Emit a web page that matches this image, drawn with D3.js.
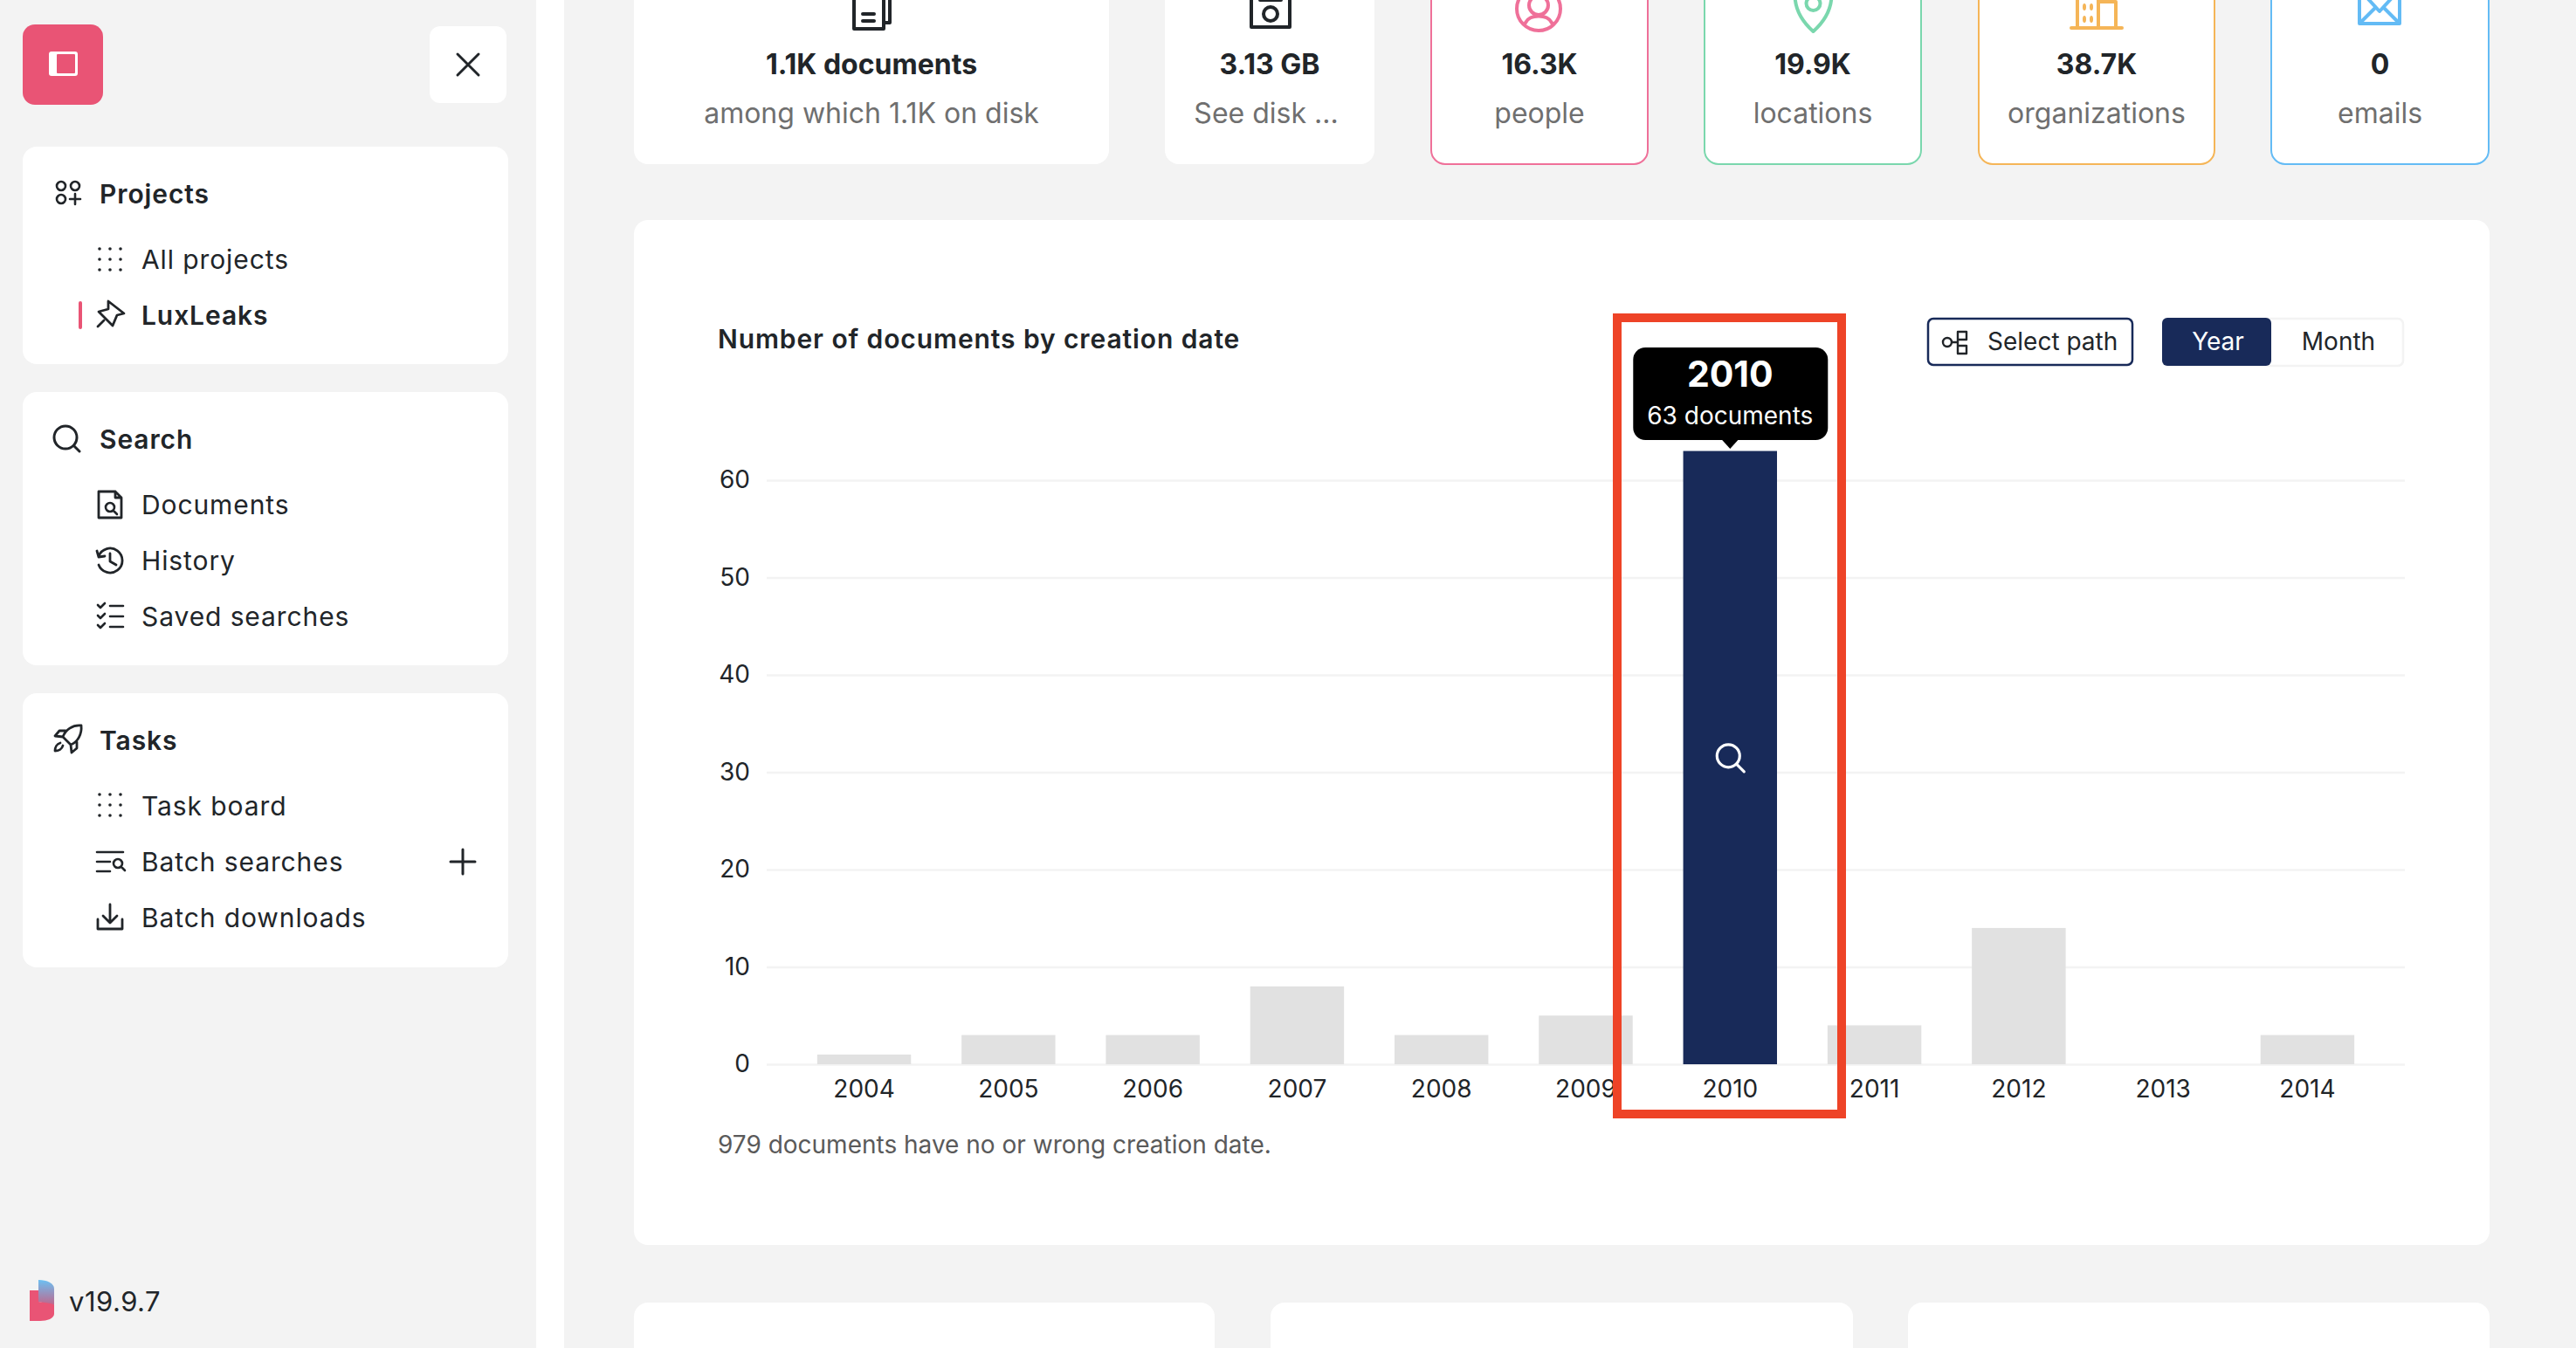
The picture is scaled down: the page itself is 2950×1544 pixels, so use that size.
<!DOCTYPE html>
<html lang="en">
<head>
    <meta charset="UTF-8">
    <title>Number of documents by creation date</title>
    <style>
        html, body { margin: 0; padding: 0; background: #f3f3f3; overflow: hidden; }
        text { font-family: Inter, "Noto Sans", sans-serif; fill: #212529; }
    </style>
</head>
<body>
<script src="https://d3js.org/d3.v7.min.js"></script>
<script>

    // chart values
    const years = ["2004", "2005", "2006", "2007", "2008", "2009", "2010", "2011", "2012", "2013", "2014"];
    const documentCounts = [1, 3, 3, 8, 3, 5, 63, 4, 14, 0, 3];
    const yTicks = [0, 10, 20, 30, 40, 50, 60];
    const selectedYear = "2010";
    const chartTitle = "Number of documents by creation date";
    const chartNote = "979 documents have no or wrong creation date.";

    // sidebar and stat card texts
    const projectItems = ["All projects", "LuxLeaks"];
    const searchItems = ["Documents", "History", "Saved searches"];
    const taskItems = ["Task board", "Batch searches", "Batch downloads"];
    const statValues = ["1.1K documents", "3.13 GB", "16.3K", "19.9K", "38.7K", "0"];
    const statLabels = ["among which 1.1K on disk", "See disk ...", "people", "locations", "organizations", "emails"];

    const NAVY = "#182a59", PINK = "#e95475", GREY = "#e1e1e1", GRID = "#f3f3f3", RED = "#ee4327";
    const INK = "#212529";

    const svg = d3.select("body").append("svg")
        .attr("width", 2950)
        .attr("height", 1544)
        .style("display", "block");

    function box(x, y, w, h, r = 16, fill = "#fff", stroke = "none", sw = 0) {
        return svg.append("rect")
            .attr("x", x).attr("y", y).attr("width", w).attr("height", h).attr("rx", r)
            .attr("fill", fill).attr("stroke", stroke).attr("stroke-width", sw);
    }

    function label(x, y, s, size = 30, weight = 400, anchor = "start", color = INK, spacing = 0) {
        return svg.append("text")
            .attr("x", x).attr("y", y)
            .attr("text-anchor", anchor)
            .style("font-size", size + "px")
            .style("font-weight", weight)
            .style("letter-spacing", spacing + "px")
            .style("fill", color)
            .text(s);
    }

    // the sidebar and the title are a bit wider than plain Inter
    function navLabel(x, y, s, weight = 400) {
        return label(x, y, s, 30, weight, "start", INK, 0.9);
    }

    // line icon drawn around (x, y)
    function icon(x, y, d, color = INK, sw = 3) {
        return svg.append("path")
            .attr("transform", "translate(" + x + "," + y + ")")
            .attr("d", d)
            .attr("fill", "none")
            .attr("stroke", color)
            .attr("stroke-width", sw)
            .attr("stroke-linecap", "round")
            .attr("stroke-linejoin", "round");
    }

    function ring(r) {
        return "M" + (-r) + ",0a" + r + "," + r + " 0 1,0 " + (2 * r) + ",0a" + r + "," + r + " 0 1,0 " + (-2 * r) + ",0";
    }

    function dots(x, y) {
        svg.append("g").selectAll("circle")
            .data(d3.cross([-12, 0, 12], [-12, 0, 12]))
            .enter().append("circle")
            .attr("cx", d => x + d[0])
            .attr("cy", d => y + d[1])
            .attr("r", 1.8)
            .attr("fill", INK);
    }

    // page background pieces
    box(614, 0, 32, 1544, 0);

    // sidebar top buttons
    box(26, 28, 92, 92, 14, PINK);
    box(56, 59, 33, 28, 3, "#fff");
    box(65, 62, 21, 22, 1, PINK);
    box(492, 30, 88, 88, 12);
    icon(536, 74, "M-12,-12L12,12M12,-12L-12,12", INK, 3);

    // sidebar cards
    box(26, 168, 556, 249);
    box(26, 449, 556, 313);
    box(26, 794, 556, 314);

    const HEAD_X = 114, ITEM_X = 162, ICON_HEAD = 78, ICON_ITEM = 126;

    navLabel(HEAD_X, 233, "Projects", 600);
    icon(ICON_HEAD - 8, 213, ring(5), INK, 2.6);
    icon(ICON_HEAD + 8, 213, ring(5), INK, 2.6);
    icon(ICON_HEAD - 8, 228, ring(5), INK, 2.6);
    icon(ICON_HEAD + 8, 228, "M-6,0H6M0,-6V6", INK, 2.6);

    navLabel(ITEM_X, 308, projectItems[0]);
    dots(ICON_ITEM, 297);
    navLabel(ITEM_X, 372, projectItems[1], 600);
    box(90, 345, 4, 32, 2, PINK);
    icon(ICON_ITEM + 1, 360, "M-3,-15L15,-1L7,1L2,13L-14,-3L-3,-6ZM-8,7L-15,14", INK, 2.8);

    navLabel(HEAD_X, 514, "Search", 600);
    icon(ICON_HEAD - 3, 501, ring(13) + "M10,10L16,16", INK, 3);
    navLabel(ITEM_X, 589, searchItems[0]);
    icon(ICON_ITEM, 578, "M-13,-15H6L13,-8V15H-13ZM6,-15V-8H13", INK, 2.8);
    icon(ICON_ITEM, 581, ring(5) + "M4,4L8,8", INK, 2.6);
    navLabel(ITEM_X, 653, searchItems[1]);
    icon(ICON_ITEM, 642, "M-13,-5A14,14 0 1,1 -13,5M-15,-11L-13,-4L-6,-5M0,-8V1L7,5", INK, 2.8);
    navLabel(ITEM_X, 717, searchItems[2]);
    icon(ICON_ITEM, 705, "M-14,-12L-11,-9L-6,-14M-14,0L-11,3L-6,-2M-14,11L-11,14L-6,9M0,-11H15M0,1H15M0,13H15", INK, 2.6);

    navLabel(HEAD_X, 859, "Tasks", 600);
    icon(ICON_HEAD, 846, "M15,-15C5,-16 -3,-10 -6,-2L3,7C11,4 16,-5 15,-15ZM-6,-2L-15,-3L-10,-9L-3,-9M3,7L4,16L10,11L10,4M-9,5C-13,6 -15,10 -15,14C-11,14 -7,12 -6,8", INK, 2.8);
    navLabel(ITEM_X, 934, taskItems[0]);
    dots(ICON_ITEM, 922);
    navLabel(ITEM_X, 998, taskItems[1]);
    icon(ICON_ITEM, 987, "M-15,-11H15M-15,0H0M-15,11H0", INK, 2.6);
    icon(ICON_ITEM + 9, 989, ring(5) + "M4,4L8,8", INK, 2.6);
    icon(530, 987, "M-14,0H14M0,-14V14", INK, 3);
    navLabel(ITEM_X, 1062, taskItems[2]);
    icon(ICON_ITEM, 1050, "M-14,3V14H14V3M0,-14V6M-8,-1L0,7L8,-1", INK, 2.8);

    // version footer
    svg.append("defs").append("linearGradient")
        .attr("id", "logoTop").attr("x1", 0).attr("y1", 0).attr("x2", 0).attr("y2", 1)
        .selectAll("stop")
        .data([["0%", "#6cc0f2"], ["100%", "#c0668c"]])
        .enter().append("stop")
        .attr("offset", d => d[0])
        .attr("stop-color", d => d[1]);
    svg.append("path").attr("d", "M44,1466C54,1466 62,1470 62,1476V1495L44,1491Z").attr("fill", "url(#logoTop)");
    svg.append("path").attr("d", "M34,1478H44V1491C52,1492 62,1493 62,1495V1505C62,1510 54,1513 46,1513H34Z").attr("fill", PINK);
    label(79, 1502, "v19.9.7", 31, 400, "start", INK, 0.5);

    // stat cards along the top, cut by the page scroll
    const statBoxes = [[726, 544], [1334, 240], [1639, 248], [1952, 248], [2266, 270], [2601, 249]];
    const statColors = [null, null, "#ef7099", "#7ad7ad", "#f5b557", "#63bbf5"];
    statValues.forEach((v, i) => {
        const x = statBoxes[i][0], w = statBoxes[i][1], c = statColors[i];
        box(x, -30, w, 218, 16, "#fff", c || "none", c ? 2 : 0);
        label(x + w / 2, 85, v, 32, 700, "middle");
        label(x + w / 2 - (i === 1 ? 4 : 0), 141, statLabels[i], 32, 400, "middle", "#6f6f6f");
    });

    // documents
    icon(994, 0, "M-16,-12V33H18V-1L11,-12M18,26H25V-12M-6,16H7M-6,24H7", INK, 4);
    // disk
    icon(1455, 0, "M-22,-14V31H22V-14M-12,0H12", INK, 4);
    icon(1455, 16, ring(8), INK, 4);
    // people
    icon(1762, 10, ring(25) + "M-15,16C-10,6 10,6 15,16", "#ef7099", 4);
    icon(1762, 6, ring(11), "#ef7099", 4);
    // locations
    icon(2076.5, 0, "M-21,-6C-21,14 -9,28 0,36C9,28 21,14 21,-6", "#7ad7ad", 4);
    icon(2076.5, 4, ring(8), "#7ad7ad", 4);
    // organizations
    icon(2401, 0, "M-22,32V-8M2,32V-8M2,2H22V32M-29,32H29", "#f5b557", 4);
    svg.append("g").selectAll("ellipse")
        .data(d3.cross([2387, 2395], [8, 22]))
        .enter().append("ellipse")
        .attr("cx", d => d[0]).attr("cy", d => d[1])
        .attr("rx", 2).attr("ry", 4)
        .attr("fill", "#f5b557");
    // emails
    icon(2725, 0, "M-23,-12V27H23V-12M-23,-12L0,13L23,-12M-22,26L-5,9M22,26L5,9", "#63bbf5", 4);

    // lower cards, only their tops are visible
    box(726, 1492, 665, 90);
    box(1455, 1492, 667, 90);
    box(2185, 1492, 666, 90);

    // main chart card
    box(726, 252, 2125, 1174);
    navLabel(822, 399, chartTitle, 600);

    box(2208, 365, 234, 53, 6, "#fff", NAVY, 2.5);
    icon(2239, 392, "M-14,0a5,5 0 1,0 10,0a5,5 0 1,0 -10,0M-4,0H3M3,-12H13V-3H3ZM3,4H13V13H3ZM3,-6V9", INK, 2.4);
    label(2276, 401, "Select path", 28, 400);

    box(2477, 365, 275, 54, 6, "#fff", GRID, 2.5);
    box(2476, 364, 125, 55, 6, NAVY);
    label(2540, 401, "Year", 28, 400, "middle", "#fff");
    label(2678, 401, "Month", 28, 400, "middle");

    // scales
    const x = d3.scaleBand().domain(years).range([878, 2754]).padding(0.35);
    const y = d3.scaleLinear().domain([0, 60]).range([1219, 550]);

    // grid and y labels come out of the axis
    const yAxis = svg.append("g")
        .attr("transform", "translate(878,0)")
        .call(d3.axisLeft(y).tickValues(yTicks).tickSize(-(2754 - 878)).tickPadding(19));
    yAxis.select(".domain").remove();
    yAxis.selectAll(".tick line").attr("stroke", GRID).attr("stroke-width", 2.5);
    yAxis.selectAll(".tick text")
        .style("font-size", "28px")
        .style("font-family", "Inter")
        .style("fill", INK);

    const rows = years.map((year, i) => ({year: year, count: documentCounts[i]}));

    svg.append("g").selectAll("rect")
        .data(rows)
        .enter().append("rect")
        .attr("x", d => x(d.year))
        .attr("y", d => y(d.count))
        .attr("width", x.bandwidth())
        .attr("height", d => y(0) - y(d.count))
        .attr("fill", d => d.year === selectedYear ? NAVY : GREY);

    const xAxis = svg.append("g")
        .attr("transform", "translate(0,1219)")
        .call(d3.axisBottom(x).tickSize(0).tickPadding(18));
    xAxis.select(".domain").remove();
    xAxis.selectAll(".tick text")
        .style("font-size", "28px")
        .style("font-family", "Inter")
        .style("fill", INK);

    label(822, 1321, chartNote, 28, 400, "start", "#5a5a5a");

    // hover state of the selected bar
    const sel = rows.find(d => d.year === selectedYear);
    const cx = x(sel.year) + x.bandwidth() / 2;
    icon(cx - 2, (y(sel.count) + y(0)) / 2 - 2, ring(13) + "M10,10L18,18", "#fff", 3.2);

    box(cx - 111, 398, 223, 106, 14, "#000");
    svg.append("path")
        .attr("d", d3.line()([[cx - 10, 503], [cx + 10, 503], [cx, 514]]))
        .attr("fill", "#000");
    label(cx, 443, sel.year, 41, 700, "middle", "#fff");
    label(cx, 486, sel.count + " documents", 28, 400, "middle", "#fff");

    // red highlight frame
    svg.append("rect")
        .attr("x", 1852).attr("y", 364).attr("width", 257).attr("height", 912)
        .attr("fill", "none")
        .attr("stroke", RED)
        .attr("stroke-width", 10);

</script>
</body>
</html>
